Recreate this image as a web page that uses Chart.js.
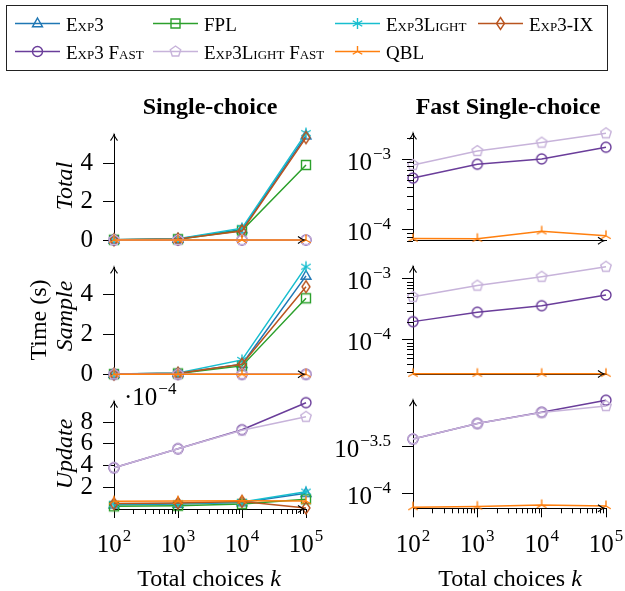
<!DOCTYPE html>
<html>
<head>
<meta charset="utf-8">
<script src="https://cdn.jsdelivr.net/npm/chart.js@4.4.1/dist/chart.umd.min.js"></script>
<style>
  html, body { margin: 0; padding: 0; background: #fff; }
  #wrap { position: relative; width: 625px; height: 591px; overflow: hidden;
          font-family: 'Liberation Serif', 'Times New Roman', serif; color: #000; }
  #wrap canvas { position: absolute; left: 0; top: 0; }
  .t { position: absolute; white-space: nowrap; line-height: 1; transform: translate(-50%, -50%); }
  .rot { transform: translate(-50%, -50%) rotate(-90deg); }
  .leg { position: absolute; white-space: nowrap; line-height: 1; font-size: 19px;
         font-variant: small-caps; transform: translateY(-50%); }
  #legbox { position: absolute; left: 6px; top: 5px; width: 602px; height: 66px;
            box-sizing: border-box; border: 1.3px solid #222; }
</style>
</head>
<body>
<div id="wrap">
  <div id="legbox"></div>
  <canvas id="legend" width="625" height="591"></canvas>
  <canvas id="c0" width="625" height="591"></canvas>
  <canvas id="c1" width="625" height="591"></canvas>
  <canvas id="c2" width="625" height="591"></canvas>
  <canvas id="c3" width="625" height="591"></canvas>
  <canvas id="c4" width="625" height="591"></canvas>
  <canvas id="c5" width="625" height="591"></canvas>

  <div class="t" style="left:210px;top:106px;font-size:24px;font-weight:bold">Single-choice</div>
  <div class="t" style="left:508px;top:106px;font-size:24px;font-weight:bold">Fast Single-choice</div>
  <div class="t rot" style="left:38px;top:320px;font-size:24px">Time (s)</div>
  <div class="t rot" style="left:64px;top:186px;font-size:24px;font-style:italic">Total</div>
  <div class="t rot" style="left:64px;top:316px;font-size:24px;font-style:italic">Sample</div>
  <div class="t rot" style="left:64px;top:454px;font-size:24px;font-style:italic">Update</div>
  <div class="t" style="left:209px;top:578px;font-size:24px">Total choices <i>k</i></div>
  <div class="t" style="left:510px;top:578px;font-size:24px">Total choices <i>k</i></div>
</div>

<script>
// ---- data ----
const choices = [1e2, 1e3, 1e4, 1e5];
const methods = ['Exp3', 'FPL', 'Exp3Light', 'Exp3-IX', 'Exp3 Fast', 'Exp3Light Fast', 'QBL'];
const fastMethods = ['Exp3 Fast', 'Exp3Light Fast', 'QBL'];

// seconds
const totalTime = {
  'Exp3':           [0.01, 0.05, 0.55, 5.45],
  'FPL':            [0.01, 0.04, 0.50, 3.92],
  'Exp3Light':      [0.01, 0.06, 0.62, 5.58],
  'Exp3-IX':        [0.01, 0.05, 0.47, 5.35],
  'Exp3 Fast':      [5.4e-4, 8.5e-4, 1.01e-3, 1.48e-3],
  'Exp3Light Fast': [8.3e-4, 1.31e-3, 1.72e-3, 2.33e-3],
  'QBL':            [7.5e-5, 7.45e-5, 9.5e-5, 8.2e-5]
};
const sampleTime = {
  'Exp3':           [0.01, 0.05, 0.50, 4.92],
  'FPL':            [0.01, 0.04, 0.42, 3.80],
  'Exp3Light':      [0.01, 0.06, 0.72, 5.38],
  'Exp3-IX':        [0.01, 0.05, 0.50, 4.38],
  'Exp3 Fast':      [2.0e-4, 2.85e-4, 3.65e-4, 5.47e-4],
  'Exp3Light Fast': [5.1e-4, 7.8e-4, 1.09e-3, 1.59e-3],
  'QBL':            [2.8e-5, 2.8e-5, 2.8e-5, 2.8e-5]
};
const updateTime = {
  'Exp3':           [0.40e-4, 0.45e-4, 0.60e-4, 1.45e-4],
  'FPL':            [0.25e-4, 0.30e-4, 0.45e-4, 0.90e-4],
  'Exp3Light':      [0.45e-4, 0.50e-4, 0.65e-4, 1.60e-4],
  'Exp3-IX':        [0.50e-4, 0.55e-4, 0.70e-4, 0.10e-4],
  'Exp3 Fast':      [3.8e-4, 5.55e-4, 7.3e-4, 9.8e-4],
  'Exp3Light Fast': [3.8e-4, 5.55e-4, 7.25e-4, 8.5e-4],
  'QBL':            [7.2e-5, 7.3e-5, 7.6e-5, 7.4e-5]
};

const xTicks = [1e2, 1e3, 1e4, 1e5];
const linTicks = [0, 2, 4];
const updateLinTicks = [2e-4, 4e-4, 6e-4, 8e-4];
const logTicks = [1e-4, 1e-3];
const updateLogTicks = [1e-4, Math.pow(10, -3.5)];

// ---- style ----
const colors = ['#1f77b4', '#2ca02c', '#17becf', '#b9541f', '#6a3d9a', '#c7b3da', '#ff7f0e'];
const marks = ['triangle', 'square', 'asterisk', 'diamond', 'circle', 'pentagon', 'mercedes'];
const FONT = "'Liberation Serif', 'Times New Roman', serif";
const W = 625, H = 591;
const YAXIS_W = 90;

function drawMark(ctx, kind, x, y, color) {
  ctx.save();
  ctx.strokeStyle = color;
  ctx.lineWidth = 1.4;
  ctx.beginPath();
  const r = 5.5;
  if (kind === 'triangle') {
    ctx.moveTo(x, y - 5.5); ctx.lineTo(x + 5, y + 3.3); ctx.lineTo(x - 5, y + 3.3); ctx.closePath();
  } else if (kind === 'square') {
    ctx.rect(x - 4.5, y - 4.5, 9, 9);
  } else if (kind === 'asterisk') {
    [90, 30, 150].forEach(a => {
      const c = Math.cos(a * Math.PI / 180) * r, s = Math.sin(a * Math.PI / 180) * r;
      ctx.moveTo(x - c, y - s); ctx.lineTo(x + c, y + s);
    });
  } else if (kind === 'diamond') {
    ctx.moveTo(x, y - 6); ctx.lineTo(x + 4, y); ctx.lineTo(x, y + 6); ctx.lineTo(x - 4, y); ctx.closePath();
  } else if (kind === 'circle') {
    ctx.arc(x, y, 5, 0, 2 * Math.PI);
  } else if (kind === 'pentagon') {
    for (let k = 0; k < 5; k++) {
      const a = -Math.PI / 2 + k * 2 * Math.PI / 5;
      const px = x + 5.5 * Math.cos(a), py = y + 5.5 * Math.sin(a);
      if (k) ctx.lineTo(px, py); else ctx.moveTo(px, py);
    }
    ctx.closePath();
  } else if (kind === 'mercedes') {
    [-90, 30, 150].forEach(a => {
      ctx.moveTo(x, y);
      ctx.lineTo(x + r * Math.cos(a * Math.PI / 180), y + r * Math.sin(a * Math.PI / 180));
    });
  }
  ctx.stroke();
  ctx.restore();
}

const markImgs = marks.map((m, i) => {
  const c = document.createElement('canvas');
  c.width = 16; c.height = 16;
  drawMark(c.getContext('2d'), m, 8, 8, colors[i]);
  return c;
});

function fmtExp(v) {
  const e = Math.round(Math.log10(v) * 10) / 10;
  return (e < 0 ? '\u2212' : '') + Math.abs(e);
}

function drawPow(ctx, xRef, baseY, exp, align, prefix) {
  const base = (prefix || '') + '10';
  ctx.font = '25px ' + FONT;
  const wb = ctx.measureText(base).width;
  ctx.font = '17px ' + FONT;
  const we = ctx.measureText(exp).width;
  const total = wb + 1 + we;
  const x0 = align === 'right' ? xRef - total : align === 'center' ? xRef - total / 2 : xRef;
  ctx.fillStyle = '#000';
  ctx.textAlign = 'left';
  ctx.textBaseline = 'alphabetic';
  ctx.font = '25px ' + FONT;
  ctx.fillText(base, x0, baseY);
  ctx.font = '17px ' + FONT;
  ctx.fillText(exp, x0 + wb + 1, baseY - 11);
}

function arrow(ctx, x, y, dir) {
  ctx.save();
  ctx.translate(x, y);
  if (dir === 'right') ctx.rotate(Math.PI / 2);
  ctx.beginPath();
  ctx.moveTo(-3.5, 6);
  ctx.quadraticCurveTo(-0.5, 2, 0, 0);
  ctx.quadraticCurveTo(0.5, 2, 3.5, 6);
  ctx.strokeStyle = '#000';
  ctx.lineWidth = 1.1;
  ctx.stroke();
  ctx.restore();
}

const decor = {
  id: 'decor',
  afterDraw(chart, args, opts) {
    const p = opts.panel;
    const { ctx, chartArea: a } = chart;
    const x = chart.scales.x, y = chart.scales.y;
    ctx.save();
    ctx.strokeStyle = '#000';
    ctx.lineWidth = 1;
    if (p.minorY) {
      for (let d = -6; d <= 0; d++) {
        for (let k = 2; k <= 9; k++) {
          const v = k * Math.pow(10, d);
          if (v < y.min || v > y.max) continue;
          const py = Math.round(y.getPixelForValue(v)) + 0.5;
          ctx.beginPath(); ctx.moveTo(a.left - 6, py); ctx.lineTo(a.left, py); ctx.stroke();
        }
      }
    }
    if (p.bottom) {
      for (let d = 2; d <= 4; d++) {
        for (let k = 2; k <= 9; k++) {
          const px = Math.round(x.getPixelForValue(k * Math.pow(10, d))) + 0.5;
          ctx.beginPath(); ctx.moveTo(px, a.bottom); ctx.lineTo(px, a.bottom + 5); ctx.stroke();
        }
      }
      xTicks.forEach(v => drawPow(ctx, x.getPixelForValue(v), 552, fmtExp(v), 'center'));
    }
    if (p.log) {
      p.ticks.forEach(v => drawPow(ctx, a.left - 22, y.getPixelForValue(v) + 10.5, fmtExp(v), 'right'));
    }
    if (p.multiplier) drawPow(ctx, a.left + 10, a.top + 3.5, p.multiplier, 'left', '\u00b7');
    arrow(ctx, a.left, a.top, 'up');
    arrow(ctx, a.right - 2, a.bottom, 'right');
    ctx.restore();
  }
};

// ---- panels ----
const panels = [
  { id: 'c0', data: totalTime, series: methods, log: false, area: [114, 134.7, 306, 240], min: 0, max: 5.5, ticks: linTicks },
  { id: 'c1', data: totalTime, series: fastMethods, log: true, area: [413, 133.3, 606, 240.7], min: 7.05e-5, max: 2.33e-3, ticks: logTicks, minorY: true },
  { id: 'c2', data: sampleTime, series: methods, log: false, area: [114, 267.3, 306, 374.3], min: 0, max: 5.35, ticks: linTicks },
  { id: 'c3', data: sampleTime, series: fastMethods, log: true, area: [413, 266.7, 606, 374], min: 2.77e-5, max: 1.59e-3, ticks: logTicks, minorY: true },
  { id: 'c4', data: updateTime, series: methods, log: false, area: [114, 401.6, 306, 509], min: 0, max: 9.9e-4, ticks: updateLinTicks, scaleBy: 1e-4, multiplier: '\u22124', bottom: true },
  { id: 'c5', data: updateTime, series: fastMethods, log: true, area: [413, 400.2, 606, 508.3], min: 7.06e-5, max: 9.8e-4, ticks: updateLogTicks, bottom: true }
];

panels.forEach(p => {
  const datasets = p.series.map(name => {
    const idx = methods.indexOf(name);
    return {
      label: name,
      data: choices.map((c, j) => ({ x: c, y: p.data[name][j] })),
      borderColor: colors[idx],
      backgroundColor: 'transparent',
      borderWidth: 1.5,
      pointStyle: markImgs[idx],
      pointRadius: 5,
      pointHoverRadius: 5,
      tension: 0,
      clip: false,
      order: 10 - idx
    };
  });
  new Chart(document.getElementById(p.id), {
    type: 'line',
    data: { datasets },
    options: {
      responsive: false,
      animation: false,
      events: [],
      layout: { padding: { left: p.area[0] - YAXIS_W, top: p.area[1], right: W - p.area[2], bottom: H - p.area[3] } },
      plugins: { legend: { display: false }, tooltip: { enabled: false }, decor: { panel: p } },
      scales: {
        x: {
          type: 'logarithmic', min: 100, max: 1e5,
          afterFit: s => { s.height = 0; },
          afterBuildTicks: s => { s.ticks = xTicks.map(v => ({ value: v })); },
          grid: { display: !!p.bottom, drawOnChartArea: false, tickLength: 9, color: '#000', lineWidth: 1 },
          border: { display: true, color: '#000', width: 1 },
          ticks: { display: false }
        },
        y: {
          type: p.log ? 'logarithmic' : 'linear', min: p.min, max: p.max,
          afterFit: s => { s.width = YAXIS_W; },
          afterBuildTicks: s => { s.ticks = p.ticks.map(v => ({ value: v })); },
          grid: { display: true, drawOnChartArea: false, tickLength: 11, color: '#000', lineWidth: 1 },
          border: { display: true, color: '#000', width: 1 },
          ticks: {
            display: !p.log, autoSkip: false, padding: 10, color: '#000',
            font: { family: FONT, size: 25 },
            callback: v => p.scaleBy ? String(Math.round(v / p.scaleBy)) : String(v)
          }
        }
      }
    },
    plugins: [decor]
  });
});

// ---- legend ----
const legendPos = [[15, 23], [153, 23], [335, 23], [478, 23], [15, 51], [153, 51], [335, 51]];
const lctx = document.getElementById('legend').getContext('2d');
const wrap = document.getElementById('wrap');
methods.forEach((name, i) => {
  const [lx, ly] = legendPos[i];
  lctx.strokeStyle = colors[i];
  lctx.lineWidth = 1.5;
  lctx.beginPath(); lctx.moveTo(lx, ly + 0.5); lctx.lineTo(lx + 45, ly + 0.5); lctx.stroke();
  drawMark(lctx, marks[i], lx + 22.5, ly + 0.5, colors[i]);
  const s = document.createElement('div');
  s.className = 'leg';
  s.style.left = (lx + 51) + 'px';
  s.style.top = (ly + 1) + 'px';
  s.textContent = name;
  wrap.appendChild(s);
});
</script>
</body>
</html>
